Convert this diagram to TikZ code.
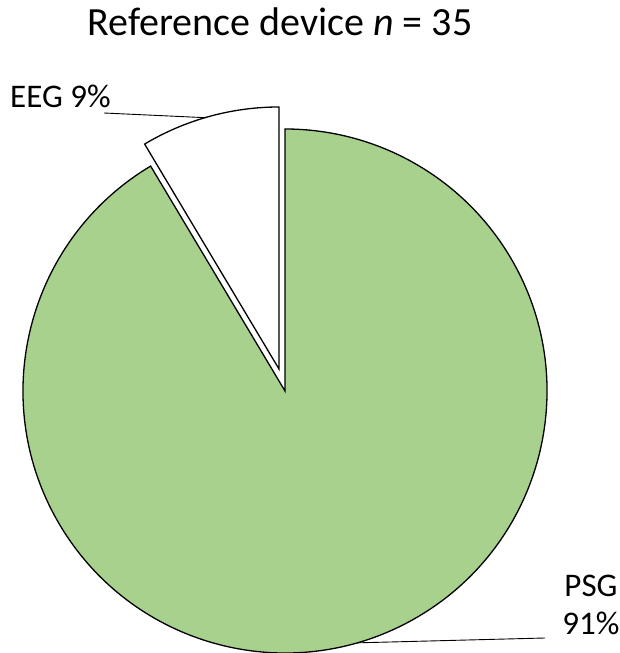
\documentclass[tikz,border=0pt]{standalone}
\usepackage{fontspec}
\setmainfont{Carlito}
\usetikzlibrary{calc}
\definecolor{psggreen}{RGB}{169,209,142}
\begin{document}
\begin{tikzpicture}[x=1pt,y=1pt,
  slice/.style={draw=black,line width=1.3pt,line join=miter},
  leader/.style={draw=black,line width=0.9pt},
  lbl/.style={inner sep=0pt,font=\fontsize{33}{38}\selectfont},
  ttl/.style={inner sep=0pt,font=\fontsize{40}{48}\selectfont}]
\useasboundingbox (0,0) rectangle (620,653);
% centres
\coordinate (G) at (285,262);
\coordinate (E) at (279,284);
% PSG slice
\draw[slice,fill=psggreen] (G) -- ++(120.857:262) arc[start angle=120.857,end angle=450,radius=262] -- cycle;
% EEG slice (exploded)
\draw[slice,fill=white] (E) -- ++(90:262) arc[start angle=90,end angle=120.857,radius=262] -- cycle;
% title
\node[ttl,anchor=base] (title) at (280,617) {Reference device \textit{n} = 35};
% labels
\node[lbl,anchor=base west] (eeg) at (10,545) {EEG 9\%};
\node[lbl,align=center,anchor=base] (psg) at (591,19) {PSG\\91\%};
% leader lines
\coordinate (eegend) at ($(E)+(106.4:262)$);
\coordinate (eegstart) at (104,540);
\coordinate (psgend) at ($(G)+(286:262)$);
\coordinate (psgstart) at (545,15);
\draw[leader] (eegstart) -- (eegend);
\draw[leader] (psgstart) -- (psgend);
\end{tikzpicture}
\end{document}
